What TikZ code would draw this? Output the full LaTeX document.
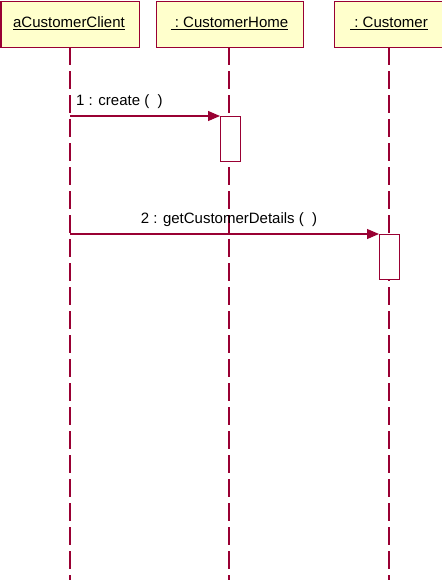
\documentclass[tikz,border=0pt]{standalone}
\usepackage{fontspec}
\setmainfont{Liberation Sans}
\usetikzlibrary{arrows.meta}
\definecolor{umlred}{RGB}{153,0,51}
\definecolor{umlfill}{RGB}{255,255,204}
\begin{document}
\begin{tikzpicture}[x=1pt,y=-1pt,
  objbox/.style={draw=umlred,fill=umlfill,line width=1.1pt,minimum height=46pt,inner sep=0pt,anchor=north west},
  objtext/.style={font=\fontsize{15}{17}\selectfont},
  lifeline/.style={draw=umlred,line width=1.1pt,dash pattern=on 18pt off 6pt},
  actbox/.style={draw=umlred,fill=white,line width=1.1pt,minimum width=20pt,minimum height=45pt,inner sep=0pt,anchor=north west},
  msg/.style={draw=umlred,line width=1.1pt,-{Triangle[length=12pt,width=10pt]}},
  msgtext/.style={font=\fontsize{15}{17}\selectfont,inner sep=0pt}]
\useasboundingbox (0,0) rectangle (442,587);
% object boxes
\node[objbox,minimum width=138pt] (b1) at (0.5,0.5) {};
\node[objbox,minimum width=147pt] (b2) at (156,0.5) {};
\node[objbox,minimum width=120pt] (b3) at (334,0.5) {};
\node[objtext] (t1) at (69,23) {\underline{aCustomerClient}};
\node[objtext] (t2) at (229.5,23) {\underline{\ :\ CustomerHome}};
\node[objtext] (t3) at (389,23) {\underline{\ :\ Customer}};
% lifeline ends
\coordinate (e1) at (70,580);
\coordinate (e2) at (229,580);
\coordinate (e3) at (389,580);
\coordinate (s1) at (70,47);
\coordinate (s2) at (229,47);
\coordinate (s3) at (389,47);
\draw[lifeline] (s1) -- (e1);
\draw[lifeline] (s2) -- (e2);
\draw[lifeline] (s3) -- (e3);
% activations
\node[actbox] (a1) at (220,116) {};
\node[actbox] (a2) at (379,234) {};
% messages
\coordinate (m1) at (70,116);
\coordinate (m2) at (70,234);
\draw[msg] (m1) -- (a1.north west);
\draw[msg] (m2) -- (a2.north west);
\node[msgtext,anchor=west] (l1) at (76,102) {1 : create (\ \ )};
\node[msgtext] (l2) at (229,220) {2 : getCustomerDetails (\ \ )};
\end{tikzpicture}
\end{document}
